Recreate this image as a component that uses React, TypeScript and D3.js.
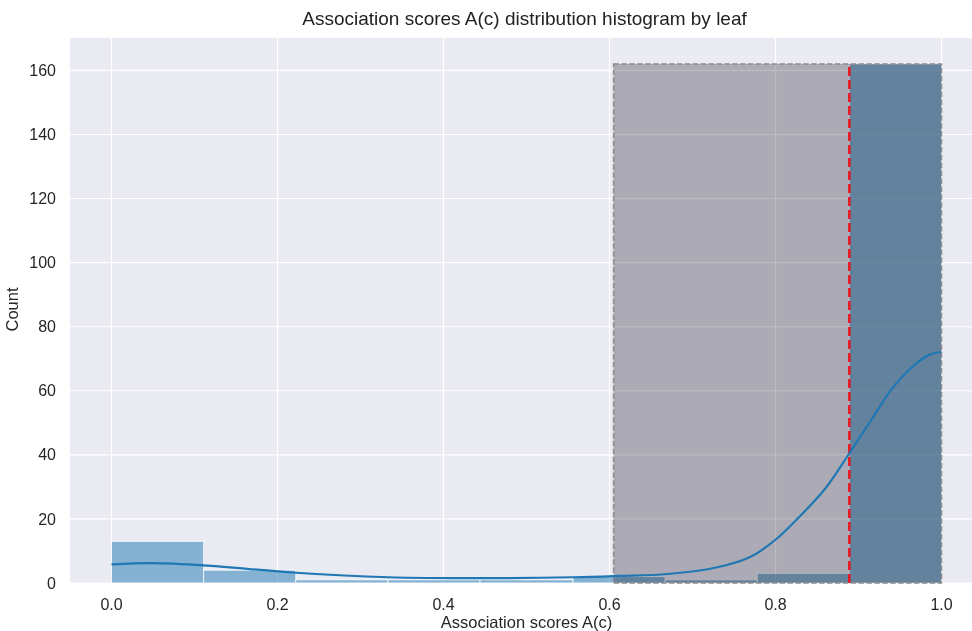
import React from 'react';
import * as d3 from 'd3';

// histogram bins (edges + counts)
const binEdges = [0, 0.111, 0.222, 0.333, 0.444, 0.556, 0.667, 0.778, 0.889, 1.0];
const binCounts = [13, 4, 1, 1, 1, 2, 1, 3, 162];

// kde curve samples
const kdeX = [0, 0.05, 0.111, 0.222, 0.333, 0.444, 0.556, 0.61, 0.67, 0.73, 0.77, 0.8, 0.83, 0.86, 0.889, 0.917, 0.94, 0.965, 0.985, 1.0];
const kdeY = [5.8, 6.2, 5.5, 3.2, 1.8, 1.5, 1.8, 2.2, 2.8, 4.9, 8.2, 13.5, 21, 29.5, 40.5, 51.5, 60.5, 67.5, 71.2, 72.1];

// highlighted region and threshold
const regionStart = 0.605;
const regionEnd = 1.0;
const regionHeight = 162;
const threshold = 0.889;

const xTicks = [0, 0.2, 0.4, 0.6, 0.8, 1.0];
const yTicks = [0, 20, 40, 60, 80, 100, 120, 140, 160];

const W = 972;
const H = 631;
const margin = { top: 38, right: -11, bottom: 48, left: 70 };
const FONT = '"Liberation Sans", Arial, sans-serif';

const App = () => {
    const innerW = W - margin.left - margin.right;
    const innerH = H - margin.top - margin.bottom;

    const x = d3.scaleLinear().domain([-0.05, 1.05]).range([0, innerW]);
    const y = d3.scaleLinear().domain([0, 170.1]).range([innerH, 0]);

    const kdeLine = d3
        .line<number>()
        .x((d, i) => x(kdeX[i]))
        .y((d) => y(d))
        .curve(d3.curveCatmullRom.alpha(0.5));

    return (
        <svg width={W} height={H} style={{ position: 'absolute', left: 0, top: 0, background: '#fff' }}>
            <text x={margin.left + innerW / 2 - 2} y={25} textAnchor="middle" fontFamily={FONT} fontSize={19} fill="#222">
                Association scores A(c) distribution histogram by leaf
            </text>
            <g transform={`translate(${margin.left},${margin.top})`}>
                <rect x={0} y={0} width={innerW} height={innerH} fill="#eaeaf2" />
                {/* grid */}
                {xTicks.map((t) => (
                    <line key={'gx' + t} x1={x(t)} x2={x(t)} y1={0} y2={innerH} stroke="#fff" strokeWidth={1.1} />
                ))}
                {yTicks.map((t) => (
                    <line key={'gy' + t} x1={0} x2={innerW} y1={y(t)} y2={y(t)} stroke="#fff" strokeWidth={1.1} />
                ))}
                {/* histogram bars */}
                {binCounts.map((c, i) => (
                    <rect
                        key={'b' + i}
                        x={x(binEdges[i])}
                        y={y(c)}
                        width={x(binEdges[i + 1]) - x(binEdges[i])}
                        height={y(0) - y(c)}
                        fill="#1f77b4"
                        fillOpacity={0.5}
                        stroke="#ffffff"
                        strokeOpacity={0.8}
                        strokeWidth={1}
                    />
                ))}
                {/* highlighted region */}
                <rect
                    x={x(regionStart)}
                    y={y(regionHeight)}
                    width={x(regionEnd) - x(regionStart)}
                    height={y(0) - y(regionHeight)}
                    fill="#bcbbbf"
                    style={{ mixBlendMode: 'multiply' }}
                />
                <rect
                    x={x(regionStart)}
                    y={y(regionHeight)}
                    width={x(regionEnd) - x(regionStart)}
                    height={y(0) - y(regionHeight)}
                    fill="none"
                    stroke="#8c8c8c"
                    strokeWidth={1.5}
                    strokeDasharray="5.5,2.4"
                />
                {/* threshold */}
                <line
                    x1={x(threshold)}
                    x2={x(threshold)}
                    y1={y(0)}
                    y2={y(regionHeight)}
                    stroke="#e8141c"
                    strokeWidth={2.5}
                    strokeDasharray="9,4"
                />
                {/* kde */}
                <path d={kdeLine(kdeY) || ''} fill="none" stroke="#1f77b4" strokeWidth={2.2} />
                {/* tick labels */}
                {xTicks.map((t) => (
                    <text key={'tx' + t} x={x(t)} y={innerH + 27} textAnchor="middle" fontFamily={FONT} fontSize={16} fill="#262626">
                        {t.toFixed(1)}
                    </text>
                ))}
                {yTicks.map((t) => (
                    <text key={'ty' + t} x={-14} y={y(t)} dy="0.35em" textAnchor="end" fontFamily={FONT} fontSize={16} fill="#262626">
                        {t}
                    </text>
                ))}
                <text x={innerW / 2} y={innerH + 45} textAnchor="middle" fontFamily={FONT} fontSize={16.5} fill="#262626">
                    Association scores A(c)
                </text>
                <text transform={`translate(${-52},${innerH / 2 - 1}) rotate(-90)`} textAnchor="middle" fontFamily={FONT} fontSize={16.5} fill="#262626">
                    Count
                </text>
            </g>
        </svg>
    );
};

export default App;
